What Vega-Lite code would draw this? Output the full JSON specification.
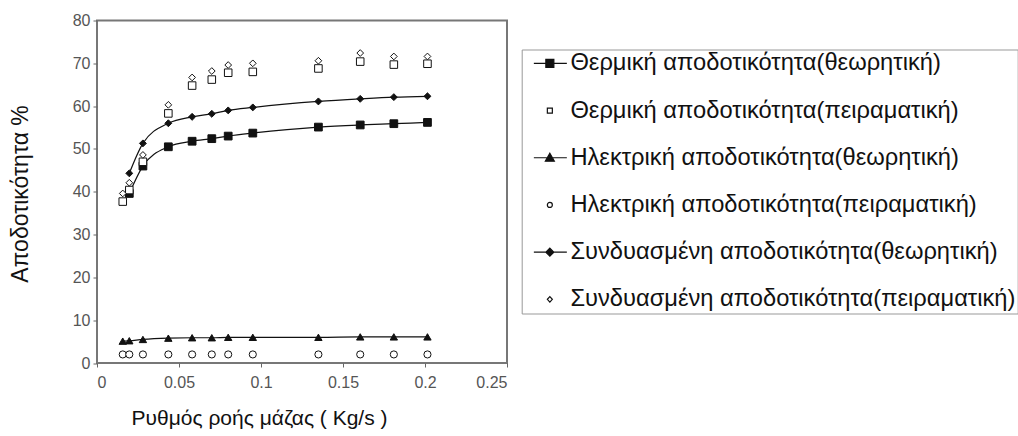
{
  "$schema": "https://vega.github.io/schema/vega-lite/v6.json",
  "autosize": "none",
  "padding": {"left": 97, "top": 20.5, "right": 511, "bottom": 73},
  "width": 410,
  "height": 342.5,
  "config": {
    "font": "Liberation Sans",
    "view": {"stroke": "#777", "strokeWidth": 2},
    "axis": {"grid": false, "domain": false, "tickColor": "#666", "tickSize": 4, "labelFont": "Liberation Sans", "labelFontSize": 16, "labelColor": "#555", "titleFont": "Liberation Sans", "titleFontSize": 21, "titleFontWeight": "normal", "titleColor": "#111"}
  },
  "data": {
    "values": [
      {"s": "Θερμική αποδοτικότητα(θεωρητική)", "x": 0.0197, "y": 39.6},
      {"s": "Θερμική αποδοτικότητα(θεωρητική)", "x": 0.028, "y": 46.0},
      {"s": "Θερμική αποδοτικότητα(θεωρητική)", "x": 0.0435, "y": 50.5},
      {"s": "Θερμική αποδοτικότητα(θεωρητική)", "x": 0.058, "y": 51.8},
      {"s": "Θερμική αποδοτικότητα(θεωρητική)", "x": 0.07, "y": 52.4},
      {"s": "Θερμική αποδοτικότητα(θεωρητική)", "x": 0.08, "y": 53.0},
      {"s": "Θερμική αποδοτικότητα(θεωρητική)", "x": 0.095, "y": 53.7},
      {"s": "Θερμική αποδοτικότητα(θεωρητική)", "x": 0.135, "y": 55.1},
      {"s": "Θερμική αποδοτικότητα(θεωρητική)", "x": 0.1605, "y": 55.6},
      {"s": "Θερμική αποδοτικότητα(θεωρητική)", "x": 0.181, "y": 55.9},
      {"s": "Θερμική αποδοτικότητα(θεωρητική)", "x": 0.2015, "y": 56.2},
      {"s": "Θερμική αποδοτικότητα(πειραματική)", "x": 0.0157, "y": 37.7},
      {"s": "Θερμική αποδοτικότητα(πειραματική)", "x": 0.0197, "y": 40.4},
      {"s": "Θερμική αποδοτικότητα(πειραματική)", "x": 0.028, "y": 47.0},
      {"s": "Θερμική αποδοτικότητα(πειραματική)", "x": 0.0435, "y": 58.3},
      {"s": "Θερμική αποδοτικότητα(πειραματική)", "x": 0.058, "y": 64.8},
      {"s": "Θερμική αποδοτικότητα(πειραματική)", "x": 0.07, "y": 66.2},
      {"s": "Θερμική αποδοτικότητα(πειραματική)", "x": 0.08, "y": 67.8},
      {"s": "Θερμική αποδοτικότητα(πειραματική)", "x": 0.095, "y": 68.0},
      {"s": "Θερμική αποδοτικότητα(πειραματική)", "x": 0.135, "y": 68.8},
      {"s": "Θερμική αποδοτικότητα(πειραματική)", "x": 0.1605, "y": 70.4},
      {"s": "Θερμική αποδοτικότητα(πειραματική)", "x": 0.181, "y": 69.7},
      {"s": "Θερμική αποδοτικότητα(πειραματική)", "x": 0.2015, "y": 69.9},
      {"s": "Ηλεκτρική αποδοτικότητα(θεωρητική)", "x": 0.0157, "y": 5.1},
      {"s": "Ηλεκτρική αποδοτικότητα(θεωρητική)", "x": 0.0197, "y": 5.2},
      {"s": "Ηλεκτρική αποδοτικότητα(θεωρητική)", "x": 0.028, "y": 5.5},
      {"s": "Ηλεκτρική αποδοτικότητα(θεωρητική)", "x": 0.0435, "y": 5.8},
      {"s": "Ηλεκτρική αποδοτικότητα(θεωρητική)", "x": 0.058, "y": 5.9},
      {"s": "Ηλεκτρική αποδοτικότητα(θεωρητική)", "x": 0.07, "y": 5.9},
      {"s": "Ηλεκτρική αποδοτικότητα(θεωρητική)", "x": 0.08, "y": 6.0},
      {"s": "Ηλεκτρική αποδοτικότητα(θεωρητική)", "x": 0.095, "y": 6.0},
      {"s": "Ηλεκτρική αποδοτικότητα(θεωρητική)", "x": 0.135, "y": 6.0},
      {"s": "Ηλεκτρική αποδοτικότητα(θεωρητική)", "x": 0.1605, "y": 6.1},
      {"s": "Ηλεκτρική αποδοτικότητα(θεωρητική)", "x": 0.181, "y": 6.1},
      {"s": "Ηλεκτρική αποδοτικότητα(θεωρητική)", "x": 0.2015, "y": 6.1},
      {"s": "Ηλεκτρική αποδοτικότητα(πειραματική)", "x": 0.0157, "y": 2.0},
      {"s": "Ηλεκτρική αποδοτικότητα(πειραματική)", "x": 0.0197, "y": 2.0},
      {"s": "Ηλεκτρική αποδοτικότητα(πειραματική)", "x": 0.028, "y": 2.0},
      {"s": "Ηλεκτρική αποδοτικότητα(πειραματική)", "x": 0.0435, "y": 2.0},
      {"s": "Ηλεκτρική αποδοτικότητα(πειραματική)", "x": 0.058, "y": 2.0},
      {"s": "Ηλεκτρική αποδοτικότητα(πειραματική)", "x": 0.07, "y": 2.0},
      {"s": "Ηλεκτρική αποδοτικότητα(πειραματική)", "x": 0.08, "y": 2.0},
      {"s": "Ηλεκτρική αποδοτικότητα(πειραματική)", "x": 0.095, "y": 2.0},
      {"s": "Ηλεκτρική αποδοτικότητα(πειραματική)", "x": 0.135, "y": 2.0},
      {"s": "Ηλεκτρική αποδοτικότητα(πειραματική)", "x": 0.1605, "y": 2.0},
      {"s": "Ηλεκτρική αποδοτικότητα(πειραματική)", "x": 0.181, "y": 2.0},
      {"s": "Ηλεκτρική αποδοτικότητα(πειραματική)", "x": 0.2015, "y": 2.0},
      {"s": "Συνδυασμένη αποδοτικότητα(θεωρητική)", "x": 0.0197, "y": 44.3},
      {"s": "Συνδυασμένη αποδοτικότητα(θεωρητική)", "x": 0.028, "y": 51.3},
      {"s": "Συνδυασμένη αποδοτικότητα(θεωρητική)", "x": 0.0435, "y": 56.0},
      {"s": "Συνδυασμένη αποδοτικότητα(θεωρητική)", "x": 0.058, "y": 57.5},
      {"s": "Συνδυασμένη αποδοτικότητα(θεωρητική)", "x": 0.07, "y": 58.2},
      {"s": "Συνδυασμένη αποδοτικότητα(θεωρητική)", "x": 0.08, "y": 59.0},
      {"s": "Συνδυασμένη αποδοτικότητα(θεωρητική)", "x": 0.095, "y": 59.7},
      {"s": "Συνδυασμένη αποδοτικότητα(θεωρητική)", "x": 0.135, "y": 61.1},
      {"s": "Συνδυασμένη αποδοτικότητα(θεωρητική)", "x": 0.1605, "y": 61.7},
      {"s": "Συνδυασμένη αποδοτικότητα(θεωρητική)", "x": 0.181, "y": 62.1},
      {"s": "Συνδυασμένη αποδοτικότητα(θεωρητική)", "x": 0.2015, "y": 62.3},
      {"s": "Συνδυασμένη αποδοτικότητα(πειραματική)", "x": 0.0157, "y": 39.6},
      {"s": "Συνδυασμένη αποδοτικότητα(πειραματική)", "x": 0.0197, "y": 42.1},
      {"s": "Συνδυασμένη αποδοτικότητα(πειραματική)", "x": 0.028, "y": 48.6},
      {"s": "Συνδυασμένη αποδοτικότητα(πειραματική)", "x": 0.0435, "y": 60.3},
      {"s": "Συνδυασμένη αποδοτικότητα(πειραματική)", "x": 0.058, "y": 66.7},
      {"s": "Συνδυασμένη αποδοτικότητα(πειραματική)", "x": 0.07, "y": 68.2},
      {"s": "Συνδυασμένη αποδοτικότητα(πειραματική)", "x": 0.08, "y": 69.6},
      {"s": "Συνδυασμένη αποδοτικότητα(πειραματική)", "x": 0.095, "y": 70.0},
      {"s": "Συνδυασμένη αποδοτικότητα(πειραματική)", "x": 0.135, "y": 70.6},
      {"s": "Συνδυασμένη αποδοτικότητα(πειραματική)", "x": 0.1605, "y": 72.4},
      {"s": "Συνδυασμένη αποδοτικότητα(πειραματική)", "x": 0.181, "y": 71.6},
      {"s": "Συνδυασμένη αποδοτικότητα(πειραματική)", "x": 0.2015, "y": 71.6}
    ]
  },
  "encoding": {
    "x": {"field": "x", "type": "quantitative", "scale": {"domain": [0, 0.25], "nice": false},
      "axis": {"values": [0, 0.05, 0.1, 0.15, 0.2, 0.25], "format": "~g", "labelPadding": 7, "title": "Ρυθμός ροής μάζας ( Kg/s )", "titleX": 162, "titleY": 55, "titleBaseline": "middle", "titleAnchor": "middle", "titleAlign": "center"}},
    "y": {"field": "y", "type": "quantitative", "scale": {"domain": [0, 80], "nice": false},
      "axis": {"values": [0, 10, 20, 30, 40, 50, 60, 70, 80], "labelPadding": 3, "title": "Αποδοτικότητα %", "titleFontSize": 23, "titleX": -77, "titleY": 173, "titleBaseline": "middle", "titleAlign": "center", "titleAngle": -90}}
  },
  "layer": [
    {
      "transform": [{"filter": {"field": "s", "oneOf": ["Θερμική αποδοτικότητα(θεωρητική)", "Ηλεκτρική αποδοτικότητα(θεωρητική)", "Συνδυασμένη αποδοτικότητα(θεωρητική)"]}}],
      "mark": {"type": "line", "color": "#111", "strokeWidth": 1.2, "interpolate": "monotone"},
      "encoding": {"detail": {"field": "s"}}
    },
    {
      "mark": {"type": "point", "stroke": "#111", "strokeWidth": 1, "opacity": 1},
      "encoding": {
        "shape": {"field": "s", "legend": null, "scale": {"domain": ["Θερμική αποδοτικότητα(θεωρητική)", "Θερμική αποδοτικότητα(πειραματική)", "Ηλεκτρική αποδοτικότητα(θεωρητική)", "Ηλεκτρική αποδοτικότητα(πειραματική)", "Συνδυασμένη αποδοτικότητα(θεωρητική)", "Συνδυασμένη αποδοτικότητα(πειραματική)"], "range": ["square", "square", "triangle-up", "circle", "diamond", "diamond"]}},
        "fill": {"field": "s", "legend": null, "scale": {"domain": ["Θερμική αποδοτικότητα(θεωρητική)", "Θερμική αποδοτικότητα(πειραματική)", "Ηλεκτρική αποδοτικότητα(θεωρητική)", "Ηλεκτρική αποδοτικότητα(πειραματική)", "Συνδυασμένη αποδοτικότητα(θεωρητική)", "Συνδυασμένη αποδοτικότητα(πειραματική)"], "range": ["#111", "white", "#111", "white", "#111", "white"]}},
        "size": {"field": "s", "legend": null, "scale": {"domain": ["Θερμική αποδοτικότητα(θεωρητική)", "Θερμική αποδοτικότητα(πειραματική)", "Ηλεκτρική αποδοτικότητα(θεωρητική)", "Ηλεκτρική αποδοτικότητα(πειραματική)", "Συνδυασμένη αποδοτικότητα(θεωρητική)", "Συνδυασμένη αποδοτικότητα(πειραματική)"], "range": [60, 45, 55, 30, 45, 35]}}
      }
    },
    {
      "mark": {"type": "point", "stroke": "#111", "strokeWidth": 1.2, "size": 0, "opacity": 1},
      "encoding": {
        "shape": {"field": "s", "title": null,
          "scale": {"domain": ["Θερμική αποδοτικότητα(θεωρητική)", "Θερμική αποδοτικότητα(πειραματική)", "Ηλεκτρική αποδοτικότητα(θεωρητική)", "Ηλεκτρική αποδοτικότητα(πειραματική)", "Συνδυασμένη αποδοτικότητα(θεωρητική)", "Συνδυασμένη αποδοτικότητα(πειραματική)"],
            "range": [
              "M-0.34,0H6.26M2.06,-0.8H3.66V0.8H2.06Z",
              "M2.36,-0.5H3.36V0.5H2.36Z",
              "M-0.34,0H6.26M2.86,-0.9L3.76,0.7H1.96Z",
              "M3.36,0A0.5,0.5 0 1 1 2.36,0A0.5,0.5 0 1 1 3.36,0Z",
              "M-0.34,0H6.26M2.86,-0.8L3.66,0L2.86,0.8L2.06,0Z",
              "M2.86,-0.55L3.36,0L2.86,0.55L2.36,0Z"
            ]},
          "legend": {"orient": "none", "legendX": 424.7, "legendY": 29, "padding": 2, "strokeColor": "#999", "symbolSize": 100, "symbolStrokeWidth": 1.2, "symbolStrokeColor": "#111", "symbolOpacity": 1, "labelFontSize": 23.7, "labelFont": "Liberation Sans", "labelColor": "#111", "labelOffset": 23, "labelLimit": 1000, "rowPadding": 22.2,
            "encode": {"symbols": {"update": {"stroke": {"value": "#111"}, "strokeWidth": {"value": 1.2}, "opacity": {"value": 1}}}}}},
        "fill": {"field": "s", "title": null,
          "scale": {"domain": ["Θερμική αποδοτικότητα(θεωρητική)", "Θερμική αποδοτικότητα(πειραματική)", "Ηλεκτρική αποδοτικότητα(θεωρητική)", "Ηλεκτρική αποδοτικότητα(πειραματική)", "Συνδυασμένη αποδοτικότητα(θεωρητική)", "Συνδυασμένη αποδοτικότητα(πειραματική)"], "range": ["#111", "white", "#111", "white", "#111", "white"]},
          "legend": {"orient": "none", "legendX": 424.7, "legendY": 29, "padding": 2, "strokeColor": "#999", "symbolSize": 100, "symbolStrokeWidth": 1.2, "symbolStrokeColor": "#111", "symbolOpacity": 1, "labelFontSize": 23.7, "labelFont": "Liberation Sans", "labelColor": "#111", "labelOffset": 23, "labelLimit": 1000, "rowPadding": 22.2,
            "encode": {"symbols": {"update": {"stroke": {"value": "#111"}, "strokeWidth": {"value": 1.2}, "opacity": {"value": 1}}}}}}
      }
    }
  ],
  "resolve": {"scale": {"shape": "independent", "fill": "independent", "size": "independent"}, "legend": {"shape": "independent", "fill": "independent"}}
}
